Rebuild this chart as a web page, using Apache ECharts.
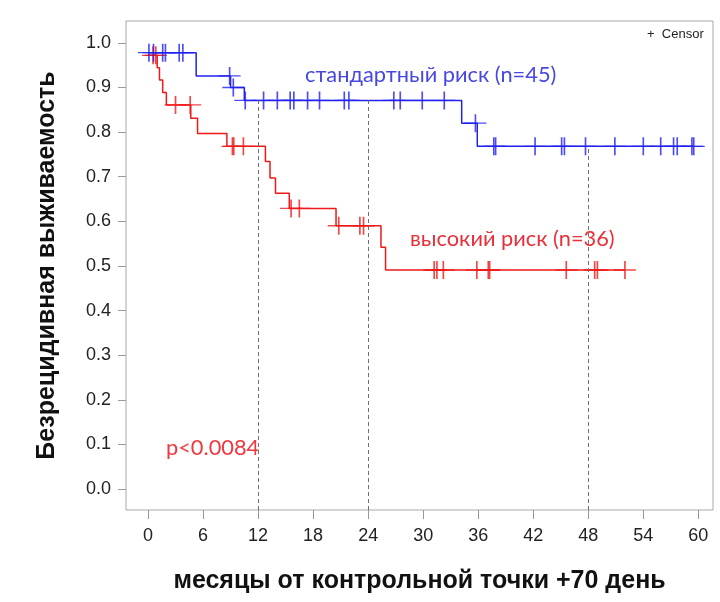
<!DOCTYPE html>
<html>
<head>
<meta charset="utf-8">
<script src="https://cdn.jsdelivr.net/npm/echarts@6/dist/echarts.min.js"></script>
<style>
  html, body { margin: 0; padding: 0; background: #fff; }
  #chart { width: 720px; height: 602px; }
</style>
</head>
<body>
<div id="chart"></div>
<script>
// стандартный риск: моменты событий и значения выживаемости
const blueTimes = [0, 5.25, 9.0, 10.5, 34.2, 35.9];
const blueSurv = [0.978, 0.926, 0.900, 0.871, 0.820, 0.768];
const blueCensor = [0.1, 0.6, 1.6, 1.9, 3.4, 3.8, 8.9, 9.3, 10.6, 12.6, 14.1, 15.5, 15.9, 17.4, 18.7,
  21.4, 21.9, 26.8, 27.5, 29.9, 32.3, 35.7, 37.7, 37.9, 42.2, 45.1, 45.4, 47.7, 50.9, 54.0, 55.9,
  57.3, 57.7, 59.3, 59.5];

// высокий риск
const redTimes = [0, 1.0, 1.25, 1.6, 2.0, 4.66, 5.4, 8.6, 12.8, 13.3, 13.9, 15.4, 20.5, 25.4, 25.9];
const redSurv = [0.972, 0.944, 0.917, 0.889, 0.861, 0.831, 0.797, 0.768, 0.734, 0.697, 0.663, 0.629,
  0.590, 0.542, 0.491];
const redCensor = [0.55, 0.85, 3.0, 4.6, 9.2, 9.35, 10.4, 15.6, 16.5, 20.8, 23.1, 23.5, 31.2, 31.5,
  32.2, 35.85, 37.1, 37.25, 45.6, 48.7, 49.0, 52.0];

const xTicks = [0, 6, 12, 18, 24, 30, 36, 42, 48, 54, 60];
const yTicks = [0, 0.1, 0.2, 0.3, 0.4, 0.5, 0.6, 0.7, 0.8, 0.9, 1.0];
const refMonths = [12, 24, 48];

const BLUE = '#2020f0';
const RED = '#f01818';
const Y_MIN = -0.047;

function survAt(times, surv, t) {
  let s = surv[0];
  for (let i = 0; i < times.length; i++) {
    if (times[i] <= t) s = surv[i];
  }
  return s;
}

// ступенчатая линия
function stepLine(times, surv, censor) {
  const pts = [[times[0], surv[0]]];
  for (let i = 1; i < times.length; i++) {
    pts.push([times[i], surv[i - 1]]);
    pts.push([times[i], surv[i]]);
  }
  const end = Math.max(times[times.length - 1], censor[censor.length - 1]);
  pts.push([end, surv[surv.length - 1]]);
  return pts;
}

function censorPts(times, surv, censor) {
  return censor.map(t => [t, survAt(times, surv, t)]);
}

const plus = 'path://M0,0 L0,18 M-11,9 L11,9';
const tickFont = { fontFamily: 'Liberation Sans', fontSize: 18, color: '#222' };
const titleFont = { fontFamily: 'Liberation Sans', fontWeight: 'bold', fontSize: 25, color: '#111' };

const chart = echarts.init(document.getElementById('chart'));
chart.setOption({
  backgroundColor: '#fff',
  animation: false,
  grid: { left: 126, right: 7, top: 21, bottom: 92 },
  xAxis: {
    type: 'value',
    min: -2.4, max: 61.6,
    axisLine: { show: false, onZero: false },
    axisTick: { show: true, customValues: xTicks, length: 9, lineStyle: { color: '#999' } },
    axisLabel: Object.assign({ customValues: xTicks, margin: 17 }, tickFont),
    splitLine: { show: false },
    name: 'месяцы от контрольной точки +70 день',
    nameLocation: 'middle', nameGap: 59,
    nameTextStyle: titleFont
  },
  yAxis: {
    type: 'value',
    min: Y_MIN, max: 1.049,
    axisLine: { show: false, onZero: false },
    axisTick: { show: true, customValues: yTicks, length: 8, lineStyle: { color: '#999' } },
    axisLabel: Object.assign({ customValues: yTicks, margin: 15, formatter: v => v.toFixed(1) }, tickFont),
    splitLine: { show: false },
    name: 'Безрецидивная выживаемость',
    nameLocation: 'middle', nameGap: 66,
    nameTextStyle: titleFont
  },
  graphic: [
    { type: 'rect', shape: { x: 126, y: 21, width: 587, height: 489 },
      style: { fill: 'none', stroke: '#a8a8a8', lineWidth: 1 }, silent: true },
    { type: 'text', left: 305, top: 64,
      style: { text: 'стандартный риск (n=45)', fill: '#4848e0', font: '21.8px Lato' } },
    { type: 'text', left: 410, top: 228,
      style: { text: 'высокий риск (n=36)', fill: '#e8303a', font: '21.8px Lato' } },
    { type: 'text', left: 166, top: 437,
      style: { text: 'p<0.0084', fill: '#f0383e', font: '21.8px Lato' } },
    { type: 'text', left: 647, top: 28,
      style: { text: '+  Censor', fill: '#222', font: '13px Liberation Sans' } }
  ],
  series: [
    {
      type: 'line', data: stepLine(blueTimes, blueSurv, blueCensor),
      symbol: 'none', lineStyle: { color: BLUE, width: 1.5 }, z: 3,
      markLine: {
        silent: true, symbol: 'none', label: { show: false },
        lineStyle: { color: '#707070', type: [4, 3], width: 1 },
        data: refMonths.map(m => [
          { coord: [m, Y_MIN] },
          { coord: [m, survAt(blueTimes, blueSurv, m)] }
        ])
      }
    },
    {
      type: 'line', data: stepLine(redTimes, redSurv, redCensor),
      symbol: 'none', lineStyle: { color: RED, width: 1.5 }, z: 2
    },
    {
      type: 'scatter', data: censorPts(blueTimes, blueSurv, blueCensor),
      symbol: plus, symbolSize: [22, 18], z: 4,
      itemStyle: { color: 'transparent', borderColor: BLUE, borderWidth: 1.5 }
    },
    {
      type: 'scatter', data: censorPts(redTimes, redSurv, redCensor),
      symbol: plus, symbolSize: [22, 18], z: 3,
      itemStyle: { color: 'transparent', borderColor: RED, borderWidth: 1.5 }
    }
  ]
});
</script>
</body>
</html>
